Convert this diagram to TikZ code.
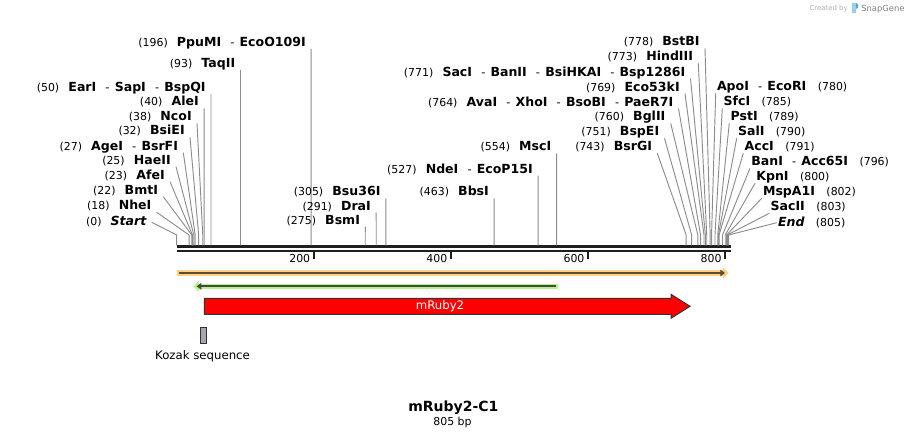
\documentclass[tikz,border=0pt]{standalone}
\usepackage{fontspec}
\setmainfont{DejaVu Sans}
\usetikzlibrary{arrows.meta,calc}
\definecolor{cutgray}{HTML}{8C8C8C}
\definecolor{backbone}{HTML}{1E1E1E}
\definecolor{featorange}{HTML}{FDD084}
\definecolor{featbrown}{HTML}{5E4D33}
\definecolor{featgreen}{HTML}{B6F28C}
\definecolor{featdark}{HTML}{3F4C3A}
\definecolor{outline}{HTML}{333333}
\definecolor{kozakgray}{HTML}{A4A7AE}
\definecolor{snapblue}{HTML}{4AA8E0}

\newcommand{\cutpos}[1]{{\fontsize{8.2}{10}\selectfont\mdseries(#1)}}
\newcommand{\enzname}[1]{{\fontsize{9.4}{10}\selectfont\bfseries #1}}
\newcommand{\enzsep}{\hspace{0.8em}-\hspace{0.45em}}

\begin{document}
\begin{tikzpicture}[x=0.75pt,y=-0.75pt,
    lbl/.style={font=\fontsize{8.6}{10}\selectfont, inner ysep=0pt, text height=6.6pt, text depth=1.6pt},
    lblL/.style={lbl, inner xsep=3.8pt},
    lblR/.style={lbl, inner xsep=0.8pt},
    cutline/.style={draw=cutgray, line width=0.7pt},
    tick/.style={draw=backbone, line width=1.5pt},
    txt/.style={font=\fontsize{8.8}{10}\selectfont, inner sep=0pt}]
  \useasboundingbox (0,0) rectangle (908,438);
  \coordinate (bendrow) at (0,235);
  % sequence backbone and scale
  \draw [backbone, line width=2.25pt] (176.7,247) coordinate (seqstart) -- (730.5,247) coordinate (seqend);
  \draw [backbone, line width=1.5pt] (176.7,251.3) -- (730.5,251.3);
  \foreach \k in {200,400,600,800}
    \draw [tick] ({176.7+0.6857*\k},251) -- ++(0,8)
      node [anchor=east, inner xsep=2pt, inner ysep=0pt, font=\fontsize{8.2}{10}\selectfont] (t\k) {\k};
  % sites, labels on the left of their line
  \foreach \nm/\anc/\x/\y/\bpos/\txt in {
      startsite/east/151.7/222.3/0/{\cutpos{0}\hspace{0.8em}\enzname{\itshape Start}},
      nhei/south east/156.7/212.3/18/{\cutpos{18}\hspace{0.8em}\enzname{NheI}},
      bmti/south east/163.3/196.7/22/{\cutpos{22}\hspace{0.8em}\enzname{BmtI}},
      afei/south east/170/181.7/23/{\cutpos{23}\hspace{0.8em}\enzname{AfeI}},
      haeii/south east/176/166.7/25/{\cutpos{25}\hspace{0.8em}\enzname{HaeII}},
      agei/south east/183.3/152.7/27/{\cutpos{27}\hspace{0.8em}\enzname{AgeI}\enzsep\enzname{BsrFI}},
      bsiei/south east/190/137.3/32/{\cutpos{32}\hspace{0.8em}\enzname{BsiEI}},
      ncoi/south east/197/123.3/38/{\cutpos{38}\hspace{0.8em}\enzname{NcoI}},
      alei/south east/204.1/108.3/40/{\cutpos{40}\hspace{0.8em}\enzname{AleI}},
      eari/south east/211/94/50/{\cutpos{50}\hspace{0.8em}\enzname{EarI}\enzsep\enzname{SapI}\enzsep\enzname{BspQI}},
      taqii/south east/240.5/70/93/{\cutpos{93}\hspace{0.8em}\enzname{TaqII}},
      ppumi/south east/311.1/49/196/{\cutpos{196}\hspace{0.8em}\enzname{PpuMI}\enzsep\enzname{EcoO109I}},
      bsmi/south east/365.3/226.7/275/{\cutpos{275}\hspace{0.8em}\enzname{BsmI}},
      drai/south east/376.2/212.7/291/{\cutpos{291}\hspace{0.8em}\enzname{DraI}},
      bsuI/south east/385.8/198.3/305/{\cutpos{305}\hspace{0.8em}\enzname{Bsu36I}},
      bbsi/south east/494.2/198.3/463/{\cutpos{463}\hspace{0.8em}\enzname{BbsI}},
      ndei/south east/538.1/175.7/527/{\cutpos{527}\hspace{0.8em}\enzname{NdeI}\enzsep\enzname{EcoP15I}},
      msci/south east/556.6/153.3/554/{\cutpos{554}\hspace{0.8em}\enzname{MscI}},
      bsrgi/south east/657.3/153.3/743/{\cutpos{743}\hspace{0.8em}\enzname{BsrGI}},
      bspei/south east/664.5/138.3/751/{\cutpos{751}\hspace{0.8em}\enzname{BspEI}},
      bglii/south east/670.7/123.3/760/{\cutpos{760}\hspace{0.8em}\enzname{BglII}},
      avai/south east/678.5/108.5/764/{\cutpos{764}\hspace{0.8em}\enzname{AvaI}\enzsep\enzname{XhoI}\enzsep\enzname{BsoBI}\enzsep\enzname{PaeR7I}},
      ecoki/south east/685/93.5/769/{\cutpos{769}\hspace{0.8em}\enzname{Eco53kI}},
      saci/south east/690.5/78.5/771/{\cutpos{771}\hspace{0.8em}\enzname{SacI}\enzsep\enzname{BanII}\enzsep\enzname{BsiHKAI}\enzsep\enzname{Bsp1286I}},
      hindiii/south east/698.3/63.3/773/{\cutpos{773}\hspace{0.8em}\enzname{HindIII}},
      bstbi/south east/705/48.3/778/{\cutpos{778}\hspace{0.8em}\enzname{BstBI}}} {
    \coordinate (s-\nm) at ({176.7+0.6857*\bpos},245.5);
    \node [lblL, anchor=\anc] (\nm) at (\x,\y) {\txt};
    \draw [cutline] (\nm.\anc) -- (s-\nm |- bendrow) -- (s-\nm);
  }
  % sites, labels on the right of their line
  \foreach \nm/\anc/\x/\y/\bpos/\txt in {
      apoi/south west/715.7/93.3/780/{\enzname{ApoI}\enzsep\enzname{EcoRI}\hspace{1em}\cutpos{780}},
      sfci/south west/722.3/108.3/785/{\enzname{SfcI}\hspace{1em}\cutpos{785}},
      psti/south west/729.3/123.3/789/{\enzname{PstI}\hspace{1em}\cutpos{789}},
      sali/south west/736.7/138.3/790/{\enzname{SalI}\hspace{1em}\cutpos{790}},
      acci/south west/743.3/153.3/791/{\enzname{AccI}\hspace{1em}\cutpos{791}},
      bani/south west/750/168.3/796/{\enzname{BanI}\enzsep\enzname{Acc65I}\hspace{1em}\cutpos{796}},
      kpni/south west/755/183.3/800/{\enzname{KpnI}\hspace{1em}\cutpos{800}},
      mspi/south west/761.7/198.3/802/{\enzname{MspA1I}\hspace{1em}\cutpos{802}},
      sacii/south west/769.3/213.3/803/{\enzname{SacII}\hspace{1em}\cutpos{803}},
      endsite/west/776.7/222.7/805/{\enzname{\itshape End}\hspace{1em}\cutpos{805}}} {
    \coordinate (s-\nm) at ({176.7+0.6857*\bpos},245.5);
    \node [lblR, anchor=\anc] (\nm) at (\x,\y) {\txt};
    \draw [cutline] (\nm.\anc) -- (s-\nm |- bendrow) -- (s-\nm);
  }
  % features
  \draw [featorange, line width=4pt, -{Triangle[length=4pt,width=8pt]}] (177,273) -- (728.5,273);
  \draw [featbrown, line width=1.5pt, -{Triangle[length=3.5pt,width=5pt]}] (179,273) -- (725,273);
  \draw [featgreen, line width=4pt, -{Triangle[length=4pt,width=8pt]}] (557.5,286.3) -- (193.5,286.3);
  \draw [featdark, line width=1.5pt, -{Triangle[length=3.5pt,width=5pt]}] (556,286.3) -- (196.7,286.3);
  \draw [fill=red, draw=outline, line width=0.75pt] (204.3,298.3) -- (671,298.3) -- (671,294.3)
    -- (690,306.3) -- (671,318.3) -- (671,314.3) -- (204.3,314.3) -- cycle;
  \node [txt, white, anchor=base] (mruby) at (440,309.7) {mRuby2};
  \node [draw=outline, fill=kozakgray, line width=0.75pt, inner sep=0pt,
    minimum width=4.6pt, minimum height=11.8pt] (kozakbox) at (203.5,335.3) {};
  \node [txt, anchor=base] (kozak) at (202.5,359.5) {Kozak sequence};
  % map name
  \node [inner sep=0pt, anchor=base, font=\fontsize{10.5}{12}\selectfont\bfseries] (title) at (453.3,411.7) {mRuby2-C1};
  \node [inner sep=0pt, anchor=base, font=\fontsize{8.2}{10}\selectfont] (length) at (452.5,425.7) {805 bp};
  % watermark
  \node [inner sep=0pt, anchor=base east, text=black!30, font=\fontsize{5.2}{6}\selectfont] (created) at (848,11) {Created by};
  \fill [snapblue!55] (852,3.5) rectangle (855.5,13);
  \fill [snapblue] (855.5,3.5) .. controls (859,3.5) and (859,9) .. (855.5,9) -- cycle;
  \node [inner sep=0pt, anchor=base west, text=black!50, font=\fontsize{6.3}{7}\selectfont] (snapgene) at (861,11.5) {SnapGene};
\end{tikzpicture}
\end{document}
